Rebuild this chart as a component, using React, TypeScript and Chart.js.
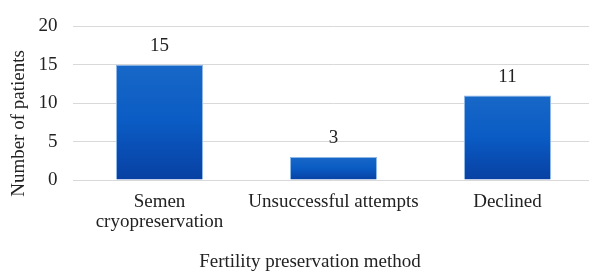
import React, { useEffect, useRef } from "react";
import { Chart, registerables } from "chart.js";

Chart.register(...registerables);

const categories: (string | string[])[] = [["Semen", "cryopreservation"], "Unsuccessful attempts", "Declined"];
const patients: number[] = [15, 3, 11];
const yTicks: number[] = [0, 5, 10, 15, 20];
const xTitle = "Fertility preservation method";
const yTitle = "Number of patients";

const FONT = "'Liberation Serif', 'Times New Roman', serif";
const TEXT = "#222222";
const SIZE = 19;

const labelsPlugin = {
  id: "valueLabels",
  afterDatasetsDraw(chart: any) {
    const { ctx } = chart;
    const meta = chart.getDatasetMeta(0);
    ctx.save();
    ctx.font = `${SIZE}px ${FONT}`;
    ctx.fillStyle = TEXT;
    ctx.textAlign = "center";
    ctx.textBaseline = "middle";
    meta.data.forEach((bar: any, i: number) => {
      ctx.fillText(String(patients[i]), bar.x, bar.y - 19);
    });
    ctx.restore();
  },
};

const titlesPlugin = {
  id: "axisTitles",
  afterDraw(chart: any) {
    const { ctx } = chart;
    ctx.save();
    ctx.font = `${SIZE}px ${FONT}`;
    ctx.fillStyle = TEXT;
    ctx.textAlign = "center";
    ctx.textBaseline = "alphabetic";
    ctx.fillText(xTitle, 310, 267);
    ctx.translate(24, 123.5);
    ctx.rotate(-Math.PI / 2);
    ctx.fillText(yTitle, 0, 0);
    ctx.restore();
  },
};

export default function App() {
  const ref = useRef<HTMLCanvasElement | null>(null);
  useEffect(() => {
    if (!ref.current) return;
    const chart = new Chart(ref.current, {
      type: "bar",
      data: {
        labels: categories,
        datasets: [
          {
            data: patients,
            backgroundColor: (c: any) => {
              const ch = c.chart;
              const ys = ch.scales && ch.scales.y;
              if (!ys || c.raw === undefined) return "#0a55bb";
              const top = ys.getPixelForValue(c.raw);
              const bottom = ys.getPixelForValue(0);
              if (!isFinite(top) || !isFinite(bottom) || top === bottom) return "#0a55bb";
              const g = ch.ctx.createLinearGradient(0, top, 0, bottom);
              g.addColorStop(0, "#1868c8");
              g.addColorStop(0.5, "#0a5bc4");
              g.addColorStop(1, "#0840a2");
              return g;
            },
            borderColor: "#8fb8e6",
            borderWidth: 1,
            barPercentage: 1,
            categoryPercentage: 0.5,
          },
        ],
      },
      options: {
        animation: false,
        responsive: false,
        maintainAspectRatio: false,
        layout: { autoPadding: false, padding: { top: 24, right: 5.5, left: 0, bottom: 0 } },
        plugins: { legend: { display: false }, tooltip: { enabled: false } },
        scales: {
          x: {
            grid: { display: false, drawTicks: false },
            border: { display: false },
            ticks: {
              color: TEXT,
              font: { family: FONT, size: SIZE, lineHeight: 1.05 },
              padding: 12,
              maxRotation: 0,
              autoSkip: false,
            },
            afterFit: (s: any) => {
              s.height = 91;
            },
          },
          y: {
            min: 0,
            max: 20,
            afterBuildTicks: (s: any) => {
              s.ticks = yTicks.map((v) => ({ value: v }));
            },
            grid: { color: "#d9d9d9", lineWidth: 1, drawTicks: false },
            border: { display: false },
            ticks: {
              color: TEXT,
              font: { family: FONT, size: SIZE },
              padding: 15,
            },
            afterFit: (s: any) => {
              s.width = 72.5;
            },
          },
        },
      },
      plugins: [labelsPlugin, titlesPlugin],
    });
    return () => chart.destroy();
  }, []);
  return (
    <div style={{ position: "fixed", left: 0, top: 0, width: 589, height: 271, overflow: "hidden", background: "#fff" }}>
      <canvas ref={ref} width={600} height={271} style={{ display: "block", width: 600, height: 271 }} />
    </div>
  );
}
